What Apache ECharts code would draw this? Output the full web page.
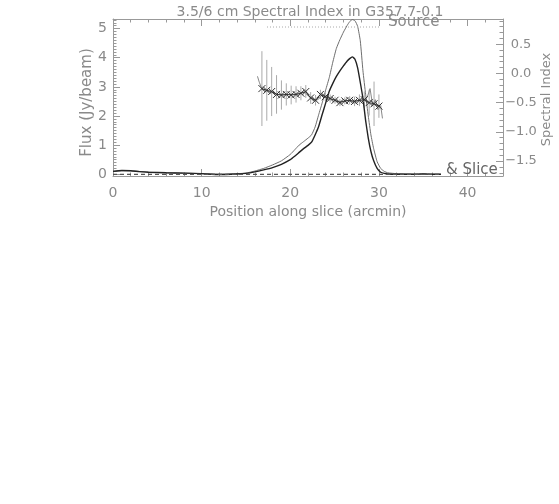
<html>
<head>
    <meta http-equiv="Content-Type" content="text/html; charset=utf-8" />
    <title>3.5/6 cm Spectral Index in G357.7-0.1</title>
    <script src="https://cdn.jsdelivr.net/npm/echarts@6/dist/echarts.min.js"></script>
    <style>
        html, body { margin: 0; padding: 0; background: #fff; }
    </style>
</head>
<body>
    <div id="main" style="width:559px;height:504px"></div>

    <script type="text/javascript">
        // flux profiles along the slice (arcmin, Jy/beam)
        var fluxPos = [0, 1, 2, 3, 4, 6, 8, 10, 12, 14, 15, 16, 17, 18, 19, 20, 20.5, 21, 21.5, 22, 22.4, 22.8, 23.2, 23.6, 24.0,
            24.4, 24.8, 25.2, 25.6, 26.0, 26.4, 26.7, 27.0, 27.3, 27.6, 27.9, 28.2, 28.5, 28.8, 29.1, 29.4, 29.8, 30.2, 30.6,
            31, 32, 33, 34, 35, 36, 37];
        var flux35 = [0.10, 0.12, 0.12, 0.09, 0.07, 0.05, 0.04, 0.02, 0.00, 0.02, 0.04, 0.11, 0.20, 0.32, 0.46, 0.68, 0.84, 1.00, 1.12, 1.24,
            1.35, 1.62, 2.04, 2.45, 2.90, 3.32, 3.85, 4.32, 4.62, 4.88, 5.10, 5.24, 5.31, 5.27, 5.08, 4.58, 3.55, 2.75, 2.00, 1.35,
            0.89, 0.43, 0.20, 0.10, 0.05, 0.02, 0.01, 0.00, 0.02, 0.00, 0.00];
        var flux6 = [0.10, 0.13, 0.12, 0.09, 0.07, 0.05, 0.04, 0.02, -0.01, 0.01, 0.03, 0.08, 0.15, 0.23, 0.34, 0.50, 0.62, 0.75, 0.88, 0.99,
            1.10, 1.35, 1.64, 2.05, 2.45, 2.85, 3.12, 3.36, 3.55, 3.72, 3.88, 3.97, 4.03, 3.95, 3.65, 3.15, 2.60, 1.85, 1.24, 0.78,
            0.47, 0.20, 0.07, 0.03, 0.01, 0.00, 0.00, 0.00, 0.01, 0.00, 0.00];

        // spectral index points with errors
        var siPos = [16.8, 17.35, 17.9, 18.45, 19.0, 19.55, 20.1, 20.65, 21.2, 21.75, 22.3, 22.85, 23.4, 23.95, 24.5,
            25.05, 25.6, 26.15, 26.7, 27.25, 27.8, 28.35, 28.9, 29.45, 30.0];
        var siVal = [-0.26, -0.29, -0.31, -0.36, -0.37, -0.36, -0.37, -0.36, -0.34, -0.31, -0.42, -0.46, -0.36, -0.40, -0.43,
            -0.46, -0.50, -0.47, -0.46, -0.48, -0.46, -0.45, -0.50, -0.52, -0.56];
        var siErr = [0.64, 0.52, 0.42, 0.33, 0.25, 0.19, 0.16, 0.14, 0.12, 0.11, 0.10, 0.09, 0.08, 0.07, 0.07,
            0.06, 0.06, 0.06, 0.07, 0.08, 0.10, 0.14, 0.22, 0.38, 0.20];

        // finer spectral index trace
        var finePos = [16.3, 16.5, 16.8, 17.4, 18.0, 18.6, 19.2, 19.8, 20.4, 21.0, 21.6, 22.2, 22.8, 23.2, 23.6, 24.2, 24.8,
            25.4, 26.0, 26.6, 27.2, 27.8, 28.3, 28.7, 29.0, 29.3, 29.6, 29.9, 30.2, 30.4];
        var fineVal = [-0.05, -0.15, -0.27, -0.30, -0.33, -0.36, -0.37, -0.36, -0.36, -0.35, -0.32, -0.40, -0.47, -0.44, -0.36, -0.41, -0.45,
            -0.48, -0.48, -0.47, -0.48, -0.46, -0.48, -0.40, -0.26, -0.55, -0.45, -0.62, -0.55, -0.77];

        function pairs(xs, ys) {
            var out = [];
            for (var i = 0; i < xs.length; i++) {
                out.push([xs[i], ys[i]]);
            }
            return out;
        }
        var errData = [];
        for (var i = 0; i < siPos.length; i++) {
            errData.push([siPos[i], siVal[i] - siErr[i], siVal[i] + siErr[i]]);
        }

        var txt = '#8a8a8a';
        var axisCol = '#999';
        var font = 'DejaVu Sans';

        function frameAxis(extra) {
            var a = {
                nameMoveOverlap: false,
                axisLine: { show: true, onZero: false, lineStyle: { color: axisCol, width: 1 } },
                axisTick: { show: true, inside: true, length: 7, lineStyle: { color: axisCol } },
                minorTick: { show: true, length: 3.5, lineStyle: { color: axisCol } },
                splitLine: { show: false },
                axisLabel: { color: txt, fontFamily: font, fontSize: 13 },
                nameTextStyle: { color: txt, fontFamily: font, fontSize: 14 }
            };
            for (var k in extra) a[k] = extra[k];
            return a;
        }

        var option = {
            animation: false,
            backgroundColor: '#fff',
            title: {
                text: '3.5/6 cm Spectral Index in G357.7-0.1',
                left: 305, top: 0, textAlign: 'center',
                textStyle: { color: txt, fontFamily: font, fontSize: 14, fontWeight: 'normal' }
            },
            grid: { left: 113, right: 56, top: 19, bottom: 328, outerBoundsMode: 'none', containLabel: false },
            xAxis: [
                frameAxis({
                    type: 'value', min: 0, max: 44, interval: 10,
                    minorTick: { show: true, splitNumber: 5, length: 3.5, lineStyle: { color: axisCol } },
                    axisLabel: { color: txt, fontFamily: font, fontSize: 14, margin: 10, showMaxLabel: false },
                    name: 'Position along slice (arcmin)', nameLocation: 'middle', nameGap: 29
                }),
                frameAxis({
                    type: 'value', position: 'top', min: 0, max: 44, interval: 10,
                    minorTick: { show: true, splitNumber: 5, length: 3.5, lineStyle: { color: axisCol } },
                    axisLabel: { show: false }
                })
            ],
            yAxis: [
                frameAxis({
                    type: 'value', min: -0.06, max: 5.33, splitNumber: 5,
                    minorTick: { show: true, splitNumber: 10, length: 3.5, lineStyle: { color: axisCol } },
                    axisLabel: { color: txt, fontFamily: font, fontSize: 14, margin: 6, showMinLabel: false, showMaxLabel: false,
                        formatter: function (v) { return Math.abs(v - Math.round(v)) < 1e-6 ? String(Math.round(v)) : ''; } },
                    name: 'Flux (Jy/beam)', nameLocation: 'middle', nameRotate: 90, nameGap: 18,
                    nameTextStyle: { color: txt, fontFamily: font, fontSize: 15, padding: [0, 10, 0, 0] }
                }),
                frameAxis({
                    type: 'value', position: 'right', min: -1.755, max: 0.93, splitNumber: 5,
                    minorTick: { show: true, splitNumber: 5, length: 3.5, lineStyle: { color: axisCol } },
                    axisLabel: { color: txt, fontFamily: font, fontSize: 13, margin: 18, align: 'center',
                        showMinLabel: false, showMaxLabel: false,
                        formatter: function (v) {
                            if (Math.abs(v * 2 - Math.round(v * 2)) > 1e-6) return '';
                            var s = Math.abs(v).toFixed(1);
                            return v < -1e-6 ? '\u2212' + s : s;
                        } },
                    name: 'Spectral Index', nameLocation: 'middle', nameRotate: 90, nameGap: 37,
                    nameTextStyle: { color: txt, fontFamily: font, fontSize: 13, padding: [0, 4, 0, 0] }
                })
            ],
            graphic: [
                { type: 'line', shape: { x1: 267, y1: 27, x2: 380, y2: 27 },
                  style: { stroke: '#aaa', lineWidth: 1, lineDash: [1, 2] }, z: 10 },
                { type: 'text', left: 388, top: 15,
                  style: { text: 'Source', fill: txt, font: '15px "DejaVu Sans"' }, z: 10 },
                { type: 'line', shape: { x1: 113, y1: 174.3, x2: 441, y2: 174.3 },
                  style: { stroke: '#555', lineWidth: 1.2, lineDash: [4, 3] }, z: 10 },
                { type: 'text', left: 446, top: 163,
                  style: { text: '& Slice', fill: '#666', font: '15px "DejaVu Sans"' }, z: 10 }
            ],
            series: [
                {
                    name: '3.5 cm', type: 'line', data: pairs(fluxPos, flux35),
                    symbol: 'none', smooth: 0.15, lineStyle: { color: '#6e6e6e', width: 1 }
                },
                {
                    name: '6 cm', type: 'line', data: pairs(fluxPos, flux6),
                    symbol: 'none', smooth: 0.15, lineStyle: { color: '#222', width: 1.4 }
                },
                {
                    name: 'error', type: 'custom', yAxisIndex: 1, data: errData,
                    renderItem: function (params, api) {
                        var lo = api.coord([api.value(0), api.value(1)]);
                        var hi = api.coord([api.value(0), api.value(2)]);
                        return {
                            type: 'line',
                            shape: { x1: lo[0], y1: lo[1], x2: hi[0], y2: hi[1] },
                            style: { stroke: '#aaa', lineWidth: 1 }
                        };
                    },
                    encode: { x: 0, y: [1, 2] }
                },
                {
                    name: 'fine index', type: 'line', yAxisIndex: 1, data: pairs(finePos, fineVal),
                    symbol: 'none', lineStyle: { color: '#888', width: 1 }
                },
                {
                    name: 'Spectral Index', type: 'line', yAxisIndex: 1, data: pairs(siPos, siVal),
                    symbol: 'path://M0,0L10,10M10,0L0,10', symbolSize: 7,
                    itemStyle: { color: 'transparent', borderColor: '#333', borderWidth: 1 },
                    lineStyle: { color: '#333', width: 1 }
                }
            ]
        };

        var myChart = echarts.init(document.getElementById('main'));
        myChart.setOption(option);
    </script>
</body>
</html>
